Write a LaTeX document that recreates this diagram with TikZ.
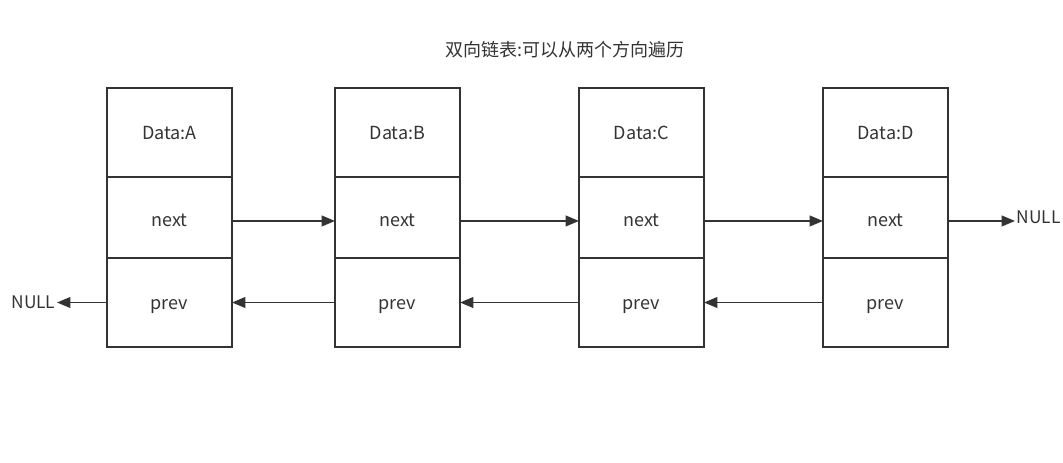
\documentclass[tikz,border=0pt]{standalone}
\usepackage{fontspec}
\setmainfont{Noto Sans CJK SC}
\definecolor{lineGray}{RGB}{51, 51, 51}
\usetikzlibrary{arrows.meta, positioning}

\begin{document}
\begin{tikzpicture}[
    x=0.75pt, y=-0.75pt,
    cell/.style={draw=lineGray, line width=1.2pt, minimum width=93.75pt,
                 inner sep=0pt, outer sep=0pt, text height=1.8ex, text depth=0pt,
                 font=\fontsize{13.5}{16}\selectfont, text=lineGray},
    datacell/.style={cell, minimum height=66.75pt},
    nextcell/.style={cell, minimum height=60.75pt, text height=2.6ex},
    prevcell/.style={cell, minimum height=66.75pt},
    nulltext/.style={font=\fontsize{13}{15}\selectfont, text=lineGray, inner sep=1pt},
    arr/.style={-{Triangle[length=10pt, width=8pt]}, line width=1.4pt, lineGray}
  ]
    \useasboundingbox (0,0) rectangle (1063,462);

    % Title
    \node[font=\fontsize{13.5}{16}\selectfont, text=lineGray] (title) at (565,50) {双向链表:可以从两个方向遍历};

    % Nodes
    \foreach \name/\x in {A/169.5, B/397.5, C/641.5, D/885.5} {
      \node[datacell] (data\name) at (\x,132.5) {Data:\name};
      \node[nextcell, below=0pt of data\name] (next\name) {next};
      \node[prevcell, below=0pt of next\name] (prev\name) {prev};
    }

    % NULL ends
    \node[nulltext, anchor=east] (nullL) at (57,302) {NULL};
    \node[nulltext, anchor=west] (nullR) at (1015,217) {NULL};

    % next pointers
    \draw[arr] ([yshift=-2.6pt]nextA.east) -- ([yshift=-2.6pt]nextB.west);
    \draw[arr] ([yshift=-2.6pt]nextB.east) -- ([yshift=-2.6pt]nextC.west);
    \draw[arr] ([yshift=-2.6pt]nextC.east) -- ([yshift=-2.6pt]nextD.west);
    \draw[arr] ([yshift=-2.6pt]nextD.east) -- ([yshift=-2.6pt]nextD.east -| nullR.west);

    % prev pointers
    \draw[arr] (prevB.west) -- (prevA.east);
    \draw[arr] (prevC.west) -- (prevB.east);
    \draw[arr] (prevD.west) -- (prevC.east);
    \draw[arr] (prevA.west) -- (prevA.west -| nullL.east);
  \end{tikzpicture}
\end{document}
